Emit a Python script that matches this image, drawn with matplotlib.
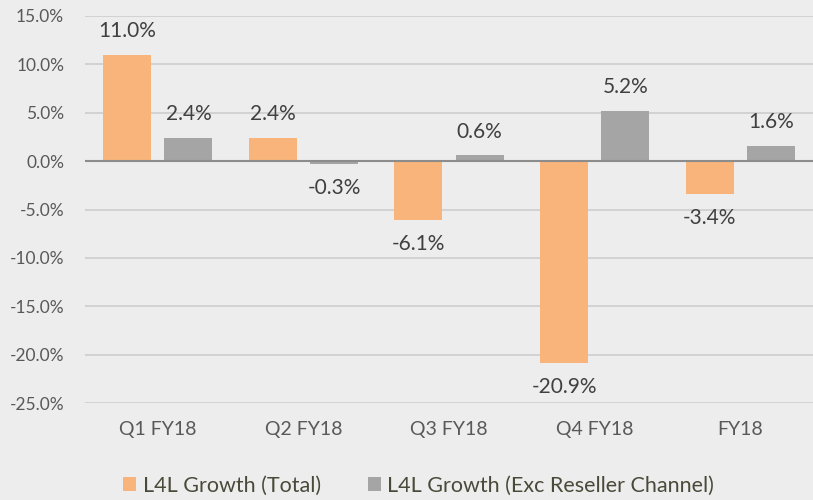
import matplotlib.pyplot as plt
import matplotlib.ticker as mticker
import numpy as np

plt.rcParams['font.family'] = ['Lato', 'DejaVu Sans']

# datos
categorias = ['Q1 FY18', 'Q2 FY18', 'Q3 FY18', 'Q4 FY18', 'FY18']
total = [11.0, 2.4, -6.1, -20.9, -3.4]
exc_reseller = [2.4, -0.3, 0.6, 5.2, 1.6]
series_labels = ['L4L Growth (Total)', 'L4L Growth (Exc Reseller Channel)']

C_ORANGE = '#F8B47A'
C_GRAY = '#A5A5A5'
C_BG = '#EDEDED'
C_TEXT = '#595959'

fig = plt.figure(figsize=(8.13, 5.0), dpi=100, facecolor=C_BG)
ax = fig.add_axes([0.1046, 0.194, 0.8954, 0.774], facecolor=C_BG)

x = np.arange(len(categorias))
ancho = 0.33
off = 0.21
ax.bar(x - off, total, ancho, color=C_ORANGE, label=series_labels[0], zorder=3)
ax.bar(x + off, exc_reseller, ancho, color=C_GRAY, label=series_labels[1], zorder=3)

# etiquetas de valor
for xs, vals in ((x - off, total), (x + off, exc_reseller)):
    for xi, v in zip(xs, vals):
        dy = 17 if v >= 0 else -17
        ax.annotate(f'{v:.1f}%', (xi, v), xytext=(0, dy), textcoords='offset points',
                    ha='center', va='center', fontsize=15, color='#404040')

ax.set_ylim(-25, 15)
ax.set_xlim(-0.5, 4.5)
ax.set_yticks(np.arange(-25, 16, 5))
ax.yaxis.set_major_formatter(mticker.FuncFormatter(lambda v, _: f'{v:.1f}%'))
ax.grid(axis='y', color='#D0D0D0', lw=1.3, zorder=0)
ax.axhline(0, color='#8C8C8C', lw=1.5, zorder=4)
for s in ax.spines.values():
    s.set_visible(False)
ax.tick_params(length=0, colors=C_TEXT)
ax.tick_params(axis='y', labelsize=12.5, pad=15)
ax.tick_params(axis='x', labelsize=14, pad=13)
ax.set_xticks(x)
ax.set_xticklabels(categorias)

fig.legend(loc='lower center', bbox_to_anchor=(0.515, -0.03), ncol=2, frameon=False,
           fontsize=15.5, labelcolor='#4A4A3A', handlelength=0.6, handleheight=0.6,
           handletextpad=0.3, columnspacing=2.2)

fig.savefig('out.png', dpi=100, facecolor=C_BG)
